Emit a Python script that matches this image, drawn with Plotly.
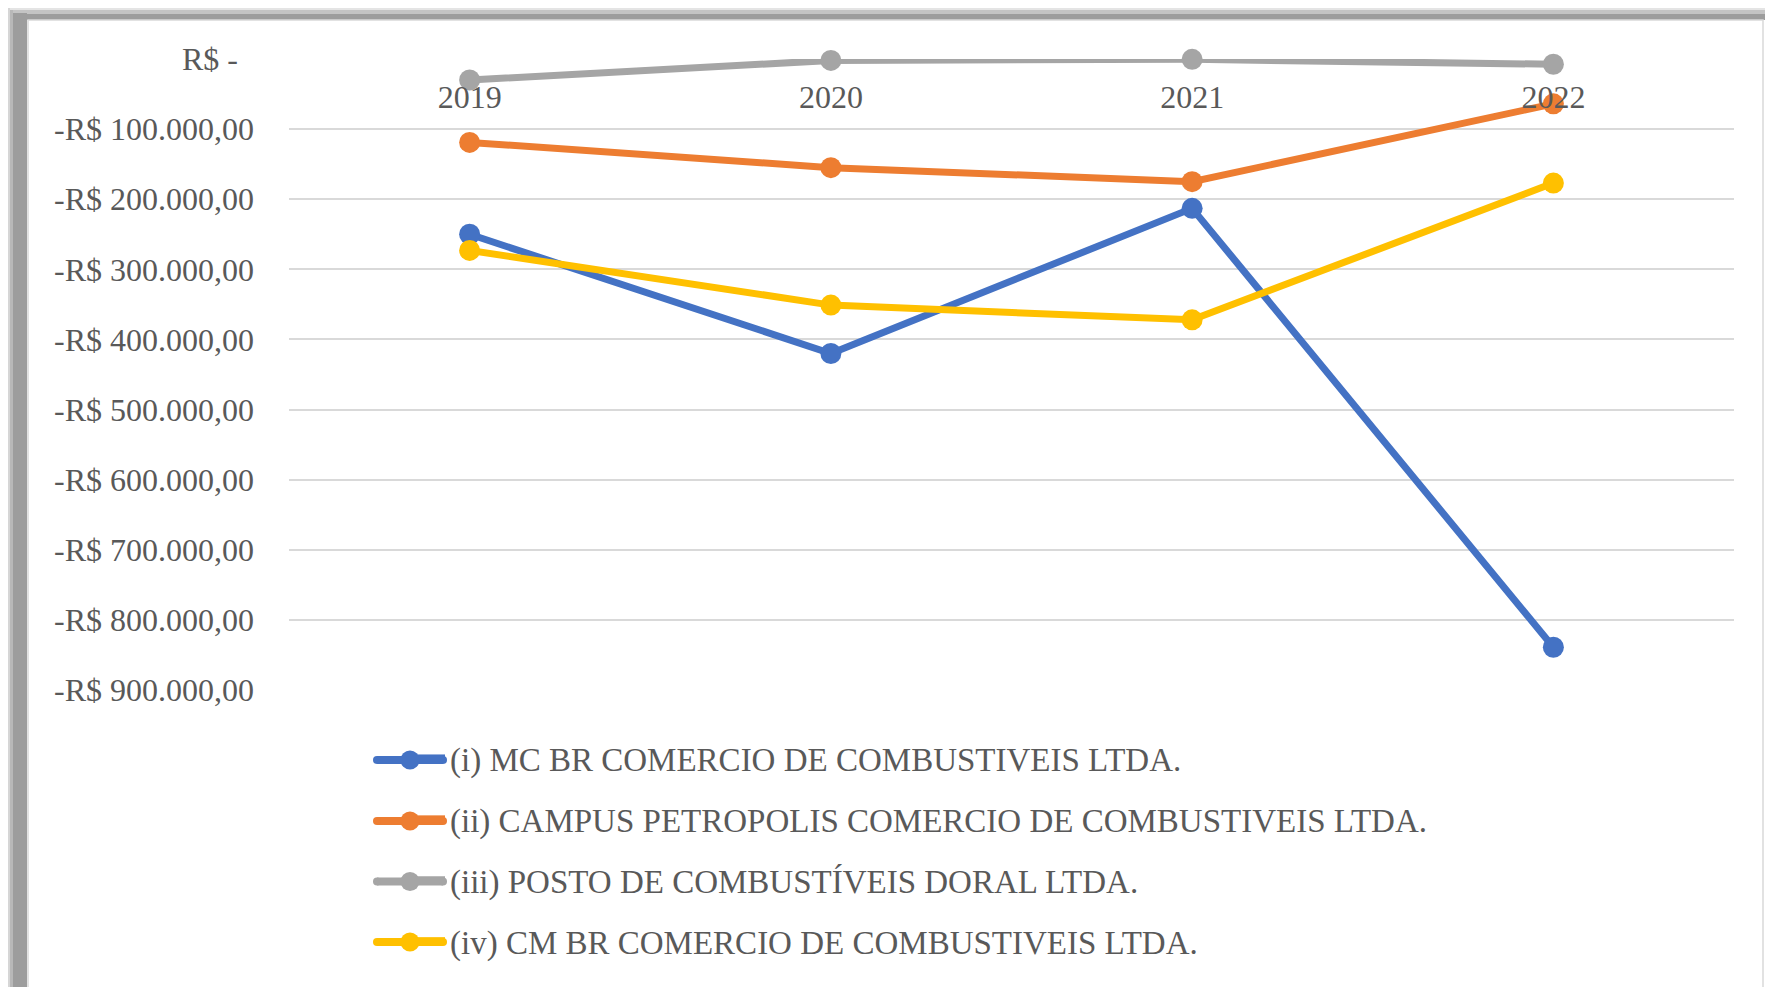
import plotly.graph_objects as go

# ---------------- data ----------------
categories = ["2019", "2020", "2021", "2022"]
series_names = [
    "(i) MC BR COMERCIO DE COMBUSTIVEIS LTDA.",
    "(ii) CAMPUS PETROPOLIS COMERCIO DE COMBUSTIVEIS LTDA.",
    "(iii) POSTO DE COMBUSTÍVEIS DORAL LTDA.",
    "(iv) CM BR COMERCIO DE COMBUSTIVEIS LTDA.",
]
mc_br = [-250000, -420000, -213000, -839000]
campus = [-119000, -155000, -175000, -64000]
doral = [-30000, -2000, -500, -7500]
cm_br = [-273000, -351000, -372000, -177000]

y_tickvals = [0, -100000, -200000, -300000, -400000, -500000, -600000, -700000, -800000, -900000]
y_ticktext = ["R$ -\u00a0\u00a0", "-R$ 100.000,00", "-R$ 200.000,00", "-R$ 300.000,00",
              "-R$ 400.000,00", "-R$ 500.000,00", "-R$ 600.000,00", "-R$ 700.000,00",
              "-R$ 800.000,00", "-R$ 900.000,00"]

colors = ["#4472C4", "#ED7D31", "#A5A5A5", "#FFC000"]
values = [mc_br, campus, doral, cm_br]

# ---------------- layout geometry ----------------
OFF = 8  # page body margin
W, H = 1773 - OFF, 987 - OFF
L, R, T, B = 289 - OFF, 39, 59 - OFF, 297
PW, PH = W - L - R, H - T - B
FONT = "Liberation Serif"
TXT = "#595959"

LEG_TOP = 730
LEG_ROWS = [760, 821, 881.5, 942]   # legend row centres (screen px)
LEG_X0, LEG_X1, LEG_MX, LEG_MR, LEG_LW = 377, 443, 410, 9.5, 8


def px(x):
    # x given in screenshot pixels
    return (x - OFF - L) / PW


def py(y):
    return (H - B - (y - OFF)) / PH


fig = go.Figure()
for i, (name, vals, col) in enumerate(zip(series_names, values, colors)):
    fig.add_trace(go.Scatter(
        x=categories, y=vals, name=name, mode="lines+markers",
        line=dict(color=col, width=7),
        marker=dict(color=col, size=21),
        showlegend=False, cliponaxis=False,
    ))
# legend entries
for i, (name, col) in enumerate(zip(series_names, colors)):
    fig.add_trace(go.Scatter(
        x=[None], y=[None], name=name, mode="lines",
        line=dict(color=col, width=7), legendgroup=f"g{i}", showlegend=True,
    ))

shapes = []
# shadow: top band
for (y0, y1, c) in [(8, 10, "#e4e4e4"), (10, 14, "#c4c4c4"), (14, 20, "#9d9d9d")]:
    shapes.append(dict(type="rect", xref="paper", yref="paper", x0=px(8 + (y0 - 8)), x1=px(1773),
                       y0=py(y0), y1=py(y1), fillcolor=c, line=dict(width=0), layer="below"))
# shadow: left band
for (x0, x1, c) in [(8, 10, "#d6d6d6"), (10, 13, "#b8b8b8"), (13, 27, "#9d9d9d")]:
    shapes.append(dict(type="rect", xref="paper", yref="paper", x0=px(x0), x1=px(x1),
                       y0=py(x0), y1=py(995), fillcolor=c, line=dict(width=0), layer="below"))
# chart area
shapes.append(dict(type="rect", xref="paper", yref="paper", x0=px(28), x1=px(1763),
                   y0=py(20), y1=py(988), fillcolor="white",
                   line=dict(color="#D9D9D9", width=1.5), layer="below"))


def dot(xc, yc, r, col):
    return dict(type="circle", xref="paper", yref="paper",
                x0=px(xc - r), x1=px(xc + r), y0=py(yc - r), y1=py(yc + r),
                fillcolor=col, line=dict(width=0), layer="above")


# longer legend keys (round-capped line + marker)
for yc, col in zip(LEG_ROWS, colors):
    shapes.append(dict(type="line", xref="paper", yref="paper", x0=px(LEG_X0), x1=px(LEG_X1),
                       y0=py(yc), y1=py(yc), line=dict(color=col, width=LEG_LW), layer="above"))
    shapes.append(dot(LEG_X0, yc, LEG_LW / 2, col))
    shapes.append(dot(LEG_X1, yc, LEG_LW / 2, col))
    shapes.append(dot(LEG_MX, yc, LEG_MR, col))

fig.update_layout(
    width=W, height=H,
    margin=dict(l=L, r=R, t=T, b=B),
    paper_bgcolor="white", plot_bgcolor="rgba(0,0,0,0)",
    font=dict(family=FONT, color=TXT, size=32),
    showlegend=True,
    legend=dict(
        x=px(410), y=py(LEG_TOP), xanchor="left", yanchor="top",
        font=dict(family=FONT, size=33, color=TXT),
        tracegroupgap=15, bgcolor="rgba(0,0,0,0)",
    ),
    shapes=shapes,
)
fig.update_xaxes(
    type="category", range=[-0.5, 3.5], anchor="free", position=1, side="bottom",
    showgrid=False, zeroline=False, showline=False, ticks="",
    tickfont=dict(family=FONT, size=32, color=TXT), ticklabelstandoff=16,
)
fig.update_yaxes(
    range=[-900000, 0], tickvals=y_tickvals, ticktext=y_ticktext,
    showgrid=True, gridcolor="#D9D9D9", gridwidth=2, zeroline=False, showline=False,
    ticks="", ticklabelstandoff=34,
    tickfont=dict(family=FONT, size=32, color=TXT),
)

fig.write_html("out.html")
